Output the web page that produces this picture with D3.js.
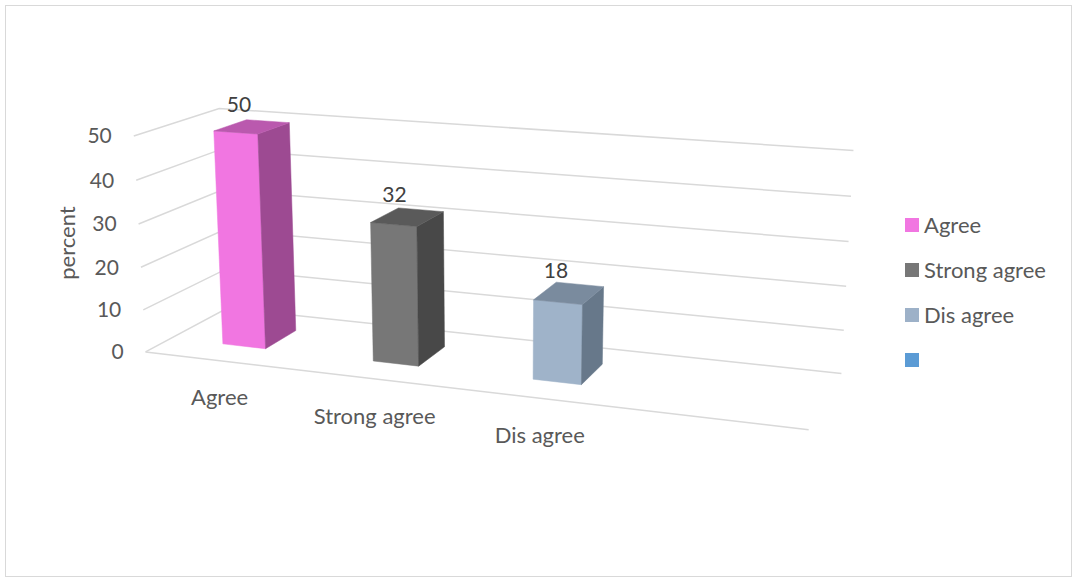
<!DOCTYPE html>
<html><head><meta charset="utf-8">
<script src="https://cdn.jsdelivr.net/npm/d3@7"></script>
<style>
html,body{margin:0;padding:0;background:#fff;}
svg{display:block;font-family:Lato, "Open Sans", sans-serif;}
</style></head>
<body><svg id="chart" width="1077" height="581"></svg>
<script>
// ---- data ----
const categories = ["Agree", "Strong agree", "Dis agree", ""];
const values = [50, 32, 18];
const yTicks = [0, 10, 20, 30, 40, 50];
const legendLabels = ["Agree", "Strong agree", "Dis agree", ""];
const frontColors = ["#F176E1", "#777777", "#9FB3C9"];
const sideColors = ["#9D4A92", "#484848", "#67788A"];
const topColors = ["#BA59AE", "#5A5A5A", "#7A8B9E"];
const legendColors = ["#F176E1", "#777777", "#9DB1C8", "#5B9BD5"];

// ---- layout: calibration of the 3D frame (u: categories, v: value, w: depth) ----
const frame = [
  [0,0,0,146,352],[1,0,0,809,429],[0,0,1,227,308],[1,0,1,841,374],
  [0,1,0,133,137],[0,1,1,220,108],[1,1,1,853,150],
  [0,0.2,0,143,310],[0,0.4,0,141,267],[0,0.6,0,139,224],[0,0.8,0,136,180],
  [1,0.2,1,844,330],[1,0.4,1,846,287],[1,0.6,1,849,242],[1,0.8,1,851,196]
];
function solveProjection(pts){
  const A=[], b=[];
  pts.forEach(([X,Y,Z,x,y])=>{
    A.push([X,Y,Z,1,0,0,0,0,-x*X,-x*Y,-x*Z]); b.push(x);
    A.push([0,0,0,0,X,Y,Z,1,-y*X,-y*Y,-y*Z]); b.push(y);
  });
  const n=11, M=[], r=[];
  for(let i=0;i<n;i++){M.push(new Array(n).fill(0)); r.push(0);
    for(let k=0;k<A.length;k++){ r[i]+=A[k][i]*b[k]; }
    for(let j=0;j<n;j++) for(let k=0;k<A.length;k++) M[i][j]+=A[k][i]*A[k][j];
  }
  for(let c=0;c<n;c++){
    let p=c; for(let i=c+1;i<n;i++) if(Math.abs(M[i][c])>Math.abs(M[p][c])) p=i;
    [M[c],M[p]]=[M[p],M[c]]; [r[c],r[p]]=[r[p],r[c]];
    for(let i=0;i<n;i++){ if(i===c) continue; const f=M[i][c]/M[c][c];
      for(let j=c;j<n;j++) M[i][j]-=f*M[c][j]; r[i]-=f*r[c]; }
  }
  return r.map((v,i)=>v/M[i][i]);
}
const P = solveProjection(frame);
function project(u,v,w){
  const d = P[8]*u+P[9]*v+P[10]*w+1;
  return [(P[0]*u+P[1]*v+P[2]*w+P[3])/d, (P[4]*u+P[5]*v+P[6]*w+P[7])/d];
}

// ---- scales ----
const x = d3.scaleBand().domain(categories).range([0,1]).paddingInner(0.71).paddingOuter(0.355);
const y = d3.scaleLinear().domain([0,50]).range([0,1]);
const z = d3.scaleBand().domain(["s1"]).range([0,1]).paddingInner(0).paddingOuter(0.75);

const svg = d3.select("#chart");
const textColor = "#595959";
const gridColor = "#D9D9D9";
const textSize = 22, numSize = 21;

svg.append("rect").attr("x",5.5).attr("y",5.5).attr("width",1066).attr("height",571)
  .attr("fill","#fff").attr("stroke","#D9D9D9").attr("stroke-width",1);

const line = d3.line();
const g = svg.append("g");
yTicks.forEach(t=>{
  const v=y(t);
  g.append("path").attr("d", line([project(0,v,0),project(0,v,1),project(1,v,1)]))
    .attr("fill","none").attr("stroke",gridColor).attr("stroke-width",1.5);
});
g.append("path").attr("d", line([project(0,0,0),project(1,0,0)]))
  .attr("fill","none").attr("stroke",gridColor).attr("stroke-width",1.5);

yTicks.forEach(t=>{
  const p=project(0,y(t),0);
  svg.append("text").attr("x",p[0]-22).attr("y",p[1]).attr("dy","0.35em")
    .attr("text-anchor","end").attr("font-size",numSize).attr("fill",textColor).text(t);
});
svg.append("text").attr("transform","translate(67,243) rotate(-90)")
  .attr("text-anchor","middle").attr("dy","0.35em").attr("font-size",textSize)
  .attr("fill",textColor).text("percent");

function area(pts){ let s=0; for(let i=0;i<pts.length;i++){const a=pts[i], b=pts[(i+1)%pts.length]; s+=a[0]*b[1]-b[0]*a[1];} return s/2; }
values.forEach((val,i)=>{
  const u0=x(categories[i]), u1=u0+x.bandwidth();
  const w0=z("s1"), w1=w0+z.bandwidth();
  const vt=y(val);
  const faces=[
    {pts:[[u0,0,w0],[u1,0,w0],[u1,vt,w0],[u0,vt,w0]], c:frontColors[i]},
    {pts:[[u1,0,w1],[u0,0,w1],[u0,vt,w1],[u1,vt,w1]], c:frontColors[i]},
    {pts:[[u1,0,w0],[u1,0,w1],[u1,vt,w1],[u1,vt,w0]], c:sideColors[i]},
    {pts:[[u0,0,w1],[u0,0,w0],[u0,vt,w0],[u0,vt,w1]], c:sideColors[i]},
    {pts:[[u0,vt,w0],[u1,vt,w0],[u1,vt,w1],[u0,vt,w1]], c:topColors[i]},
    {pts:[[u0,0,w1],[u1,0,w1],[u1,0,w0],[u0,0,w0]], c:topColors[i]}
  ].map(f=>({c:f.c, p:f.pts.map(q=>project(...q))}));
  const ref=Math.sign(area(faces[0].p));
  const bg=svg.append("g");
  faces.forEach(f=>{
    if(Math.sign(area(f.p))===ref){
      bg.append("path").attr("d", line(f.p)+"Z").attr("fill",f.c)
        .attr("stroke",f.c).attr("stroke-width",0.5).attr("stroke-linejoin","round");
    }
  });
  const tc=project((u0+u1)/2, vt, (w0+w1)/2);
  svg.append("text").attr("x",tc[0]-13).attr("y",tc[1]-22).attr("dy","0.35em")
    .attr("text-anchor","middle").attr("font-size",numSize).attr("fill","#404040").text(val);
});

categories.forEach((c,i)=>{
  if(!c) return;
  const p=project(x(c)+x.bandwidth()/2,0,0);
  svg.append("text").attr("x",p[0]).attr("y",p[1]+37).attr("dy","0.35em")
    .attr("text-anchor","middle").attr("font-size",textSize).attr("fill",textColor).text(c);
});

const lg = svg.append("g");
legendLabels.forEach((l,i)=>{
  const cy=225+i*45;
  lg.append("rect").attr("x",905).attr("y",cy-7).attr("width",14).attr("height",14).attr("fill",legendColors[i]);
  lg.append("text").attr("x",924).attr("y",cy).attr("dy","0.35em").attr("font-size",textSize)
    .attr("fill",textColor).text(l);
});
</script></body></html>
